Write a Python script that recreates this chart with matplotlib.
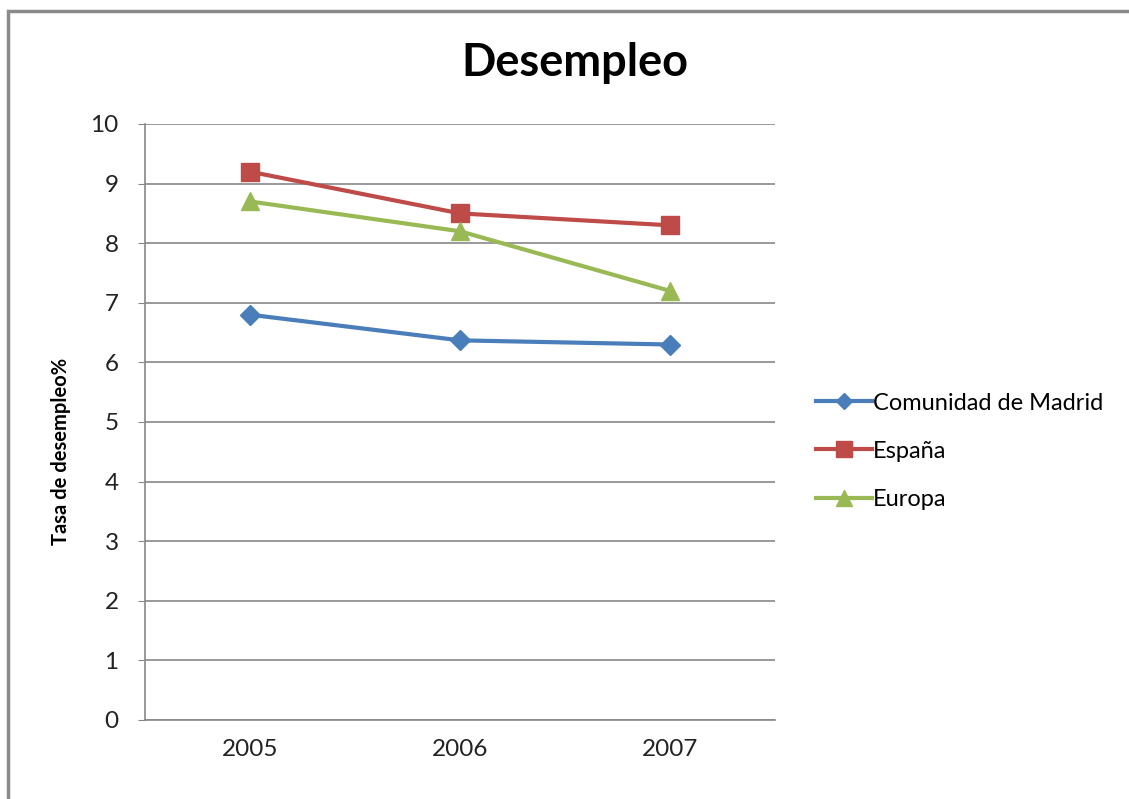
import matplotlib.pyplot as plt
import numpy as np
from matplotlib.patches import Rectangle

years = ["2005", "2006", "2007"]
madrid = [6.8, 6.37, 6.3]
espana = [9.2, 8.5, 8.3]
europa = [8.7, 8.2, 7.2]

plt.rcParams['font.family'] = ['Lato', 'DejaVu Sans']

fig = plt.figure(figsize=(11.29, 7.99), dpi=100)
# outer chart frame
fig.patches.append(Rectangle((8 / 1129, -0.05), 1.2, 1 - 11 / 799 + 0.05,
                             transform=fig.transFigure, fill=False,
                             edgecolor='#8a8a8a', linewidth=2.5))

ax = fig.add_axes([145 / 1129, 1 - 720 / 799, 630 / 1129, 596 / 799])
x = np.arange(len(years))

ax.plot(x, madrid, color='#4A7EBB', linewidth=3, marker='D', markersize=10, label="Comunidad de Madrid")
ax.plot(x, espana, color='#BE4B48', linewidth=3, marker='s', markersize=13, label="España")
ax.plot(x, europa, color='#98B954', linewidth=3, marker='^', markersize=13, label="Europa")

ax.set_xlim(-0.5, 2.5)
ax.set_ylim(0, 10)
ax.set_yticks(range(0, 11))
ax.set_xticks(x)
ax.set_xticklabels(years)
ax.tick_params(axis='both', labelsize=17.5, colors='#222222', length=0, pad=14)
ax.tick_params(axis='y', length=5, color='#888888', pad=14)
ax.grid(axis='y', color='#888888', linewidth=1.2)
ax.set_axisbelow(True)
for s in ['top', 'right']:
    ax.spines[s].set_visible(False)
for s in ['left', 'bottom']:
    ax.spines[s].set_color('#888888')
    ax.spines[s].set_linewidth(1.2)

ax.set_ylabel("Tasa de desempleo%", fontsize=14.5, fontweight='bold')
ax.yaxis.set_label_coords(-0.118, 0.45)
fig.text(575 / 1129, 1 - 63 / 799, "Desempleo", fontsize=32.5, fontweight='bold',
         ha='center', va='center')

ax.legend(loc='center left', bbox_to_anchor=(1.032, 0.451), frameon=False, fontsize=17,
          handlelength=2.35, handletextpad=0.05, labelspacing=1.15,
          markerscale=0.85)

fig.savefig("out.png", dpi=100)
